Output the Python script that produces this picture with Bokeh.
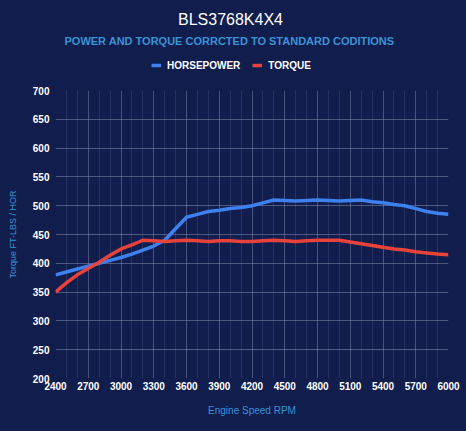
from bokeh.plotting import figure
from bokeh.layouts import column
from bokeh.models import Range1d, FixedTicker, Label, Legend, LegendItem
from bokeh.embed import file_html
from bokeh.resources import INLINE

rpm = list(range(2400, 6001, 100))
horsepower = [380, 385, 390, 395, 400, 405, 410, 416, 423, 430, 440, 460, 480, 485, 490, 492, 495,
              497, 500, 505, 510, 509, 508, 509, 510, 509, 508, 509, 510, 507, 505, 502, 500, 495,
              490, 487, 485]
torque = [350, 366, 380, 391, 402, 414, 425, 432, 440, 439, 438, 439, 440, 439, 438, 439, 439,
          438, 438, 439, 440, 439, 438, 439, 440, 440, 440, 437, 434, 431, 428, 425, 423, 420,
          418, 416, 415]
x_ticks = list(range(2400, 6001, 300))
y_ticks = list(range(200, 701, 50))
series_names = ["HORSEPOWER", "TORQUE"]

title_text = "BLS3768K4X4"
subtitle_text = "POWER AND TORQUE CORRCTED TO STANDARD CODITIONS"

BG = "#101d4d"
BLUE = "#3d80ee"
RED = "#e8433a"
TXT_BLUE = "#3b93d6"
FONT = "Liberation Sans"
W = 466
H = 431
HEAD_H = 82
LEFT = 55
RIGHT = 18

# ---- header (title, subtitle, legend); its data units are canvas pixels ----
head = figure(width=W, height=HEAD_H, output_backend="svg", toolbar_location=None, title=None,
              x_axis_type=None, y_axis_type=None,
              x_range=Range1d(LEFT, W - RIGHT), y_range=Range1d(HEAD_H, 0),
              min_border_left=LEFT, min_border_right=RIGHT,
              min_border_top=0, min_border_bottom=0)
head.grid.visible = False
head.background_fill_color = BG
head.border_fill_color = BG
head.outline_line_color = None

head.add_layout(Label(x=230, y=19, text=title_text, text_align="center", text_baseline="middle",
                      text_color="white", text_font=FONT, text_font_size="16px"))
head.add_layout(Label(x=229, y=40, text=subtitle_text, text_align="center", text_baseline="middle",
                      text_color=TXT_BLUE, text_font=FONT, text_font_size="11px",
                      text_font_style="bold"))

k_hp = head.line([0, 1], [-100, -100], line_color=BLUE, line_width=3.5)
k_tq = head.line([0, 1], [-100, -100], line_color=RED, line_width=3.5)
legend = Legend(items=[LegendItem(label=series_names[0], renderers=[k_hp]),
                       LegendItem(label=series_names[1], renderers=[k_tq])],
                orientation="horizontal", location=(96, 11),
                background_fill_alpha=0, border_line_alpha=0,
                padding=0, margin=0, spacing=12, label_standoff=6,
                glyph_width=10, glyph_height=12, label_height=12,
                label_text_color="white", label_text_font=FONT,
                label_text_font_size="10px", label_text_font_style="bold")
head.add_layout(legend, "center")

# ---- main chart ----
p = figure(width=W, height=H - HEAD_H, output_backend="svg", toolbar_location=None, title=None,
           x_range=Range1d(2400, 6000), y_range=Range1d(200, 700),
           min_border_left=LEFT, min_border_right=RIGHT, min_border_top=8, min_border_bottom=53)
p.background_fill_color = BG
p.border_fill_color = BG
p.outline_line_color = None

p.line(rpm, horsepower, line_color=BLUE, line_width=3.5)
p.line(rpm, torque, line_color=RED, line_width=3.5)

p.xaxis.ticker = FixedTicker(ticks=x_ticks, minor_ticks=rpm)
p.yaxis.ticker = FixedTicker(ticks=y_ticks)
for ax in (p.xaxis, p.yaxis):
    ax.axis_line_color = None
    ax.major_tick_line_color = None
    ax.minor_tick_line_color = None
    ax.major_tick_out = 0
    ax.major_tick_in = 0
    ax.minor_tick_out = 0
    ax.major_label_text_color = "white"
    ax.major_label_text_font = FONT
    ax.major_label_text_font_size = "10px"
    ax.major_label_text_font_style = "bold"
    ax.axis_label_text_color = TXT_BLUE
    ax.axis_label_text_font = FONT
    ax.axis_label_text_font_style = "normal"
p.yaxis.major_label_standoff = 6
p.xaxis.major_label_standoff = 3
p.xaxis.axis_label = "Engine Speed RPM"
p.xaxis.axis_label_text_font_size = "10px"
p.xaxis.axis_label_standoff = 12
p.yaxis.axis_label = "Torque FT-LBS / HOR"
p.yaxis.axis_label_text_font_size = "9px"
p.yaxis.axis_label_standoff = 12

p.xgrid.grid_line_color = "#8a93b5"
p.xgrid.grid_line_alpha = 0.35
p.xgrid.minor_grid_line_color = "#8a93b5"
p.xgrid.minor_grid_line_alpha = 0.18
p.ygrid.grid_line_color = "#8a93b5"
p.ygrid.grid_line_alpha = 0.5

layout = column(head, p, spacing=0)
html = file_html(layout, INLINE)
style = "<style>html, body { background-color: %s !important; margin: 0 !important; }</style>" % BG
if "</head>" in html:
    html = html.replace("</head>", style + "\n</head>", 1)
else:
    html = style + html
open("out.html", "w").write(html)
